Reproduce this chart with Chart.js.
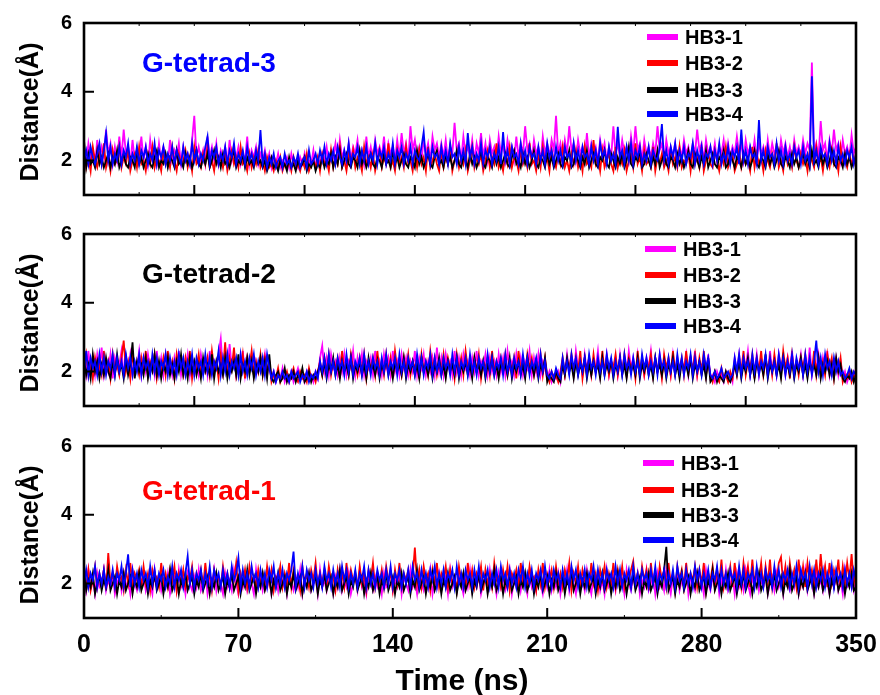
<!DOCTYPE html>
<html>
<head>
<meta charset="utf-8">
<title>G-tetrad hydrogen bond distances</title>
<script src="https://cdn.jsdelivr.net/npm/chart.js@4.4.0/dist/chart.umd.min.js"></script>
<style>
    html, body { margin: 0; padding: 0; background: #fff; }
    #stage { position: relative; width: 880px; height: 695px; }
    #stage canvas { position: absolute; left: 0; top: 0; }
</style>
</head>
<body>
<div id="stage">
    <canvas id="tetrad3" width="880" height="695"></canvas>
    <canvas id="tetrad2" width="880" height="695"></canvas>
    <canvas id="tetrad1" width="880" height="695"></canvas>
</div>
<script>
'use strict';

// one frame per ns, 0 .. 350 ns (27 frames per row below)
const SAMPLE_STEP_NS = 1;

const SERIES_NAMES = ['HB3-1', 'HB3-2', 'HB3-3', 'HB3-4'];
const SERIES_COLORS = ['#ff00ff', '#ff0000', '#000000', '#0000ff'];

const Y_TICKS = [2, 4, 6];
const X_MAJOR_UPPER = [0, 50, 100, 150, 200, 250, 300, 350];
const X_MINOR_UPPER = [25, 75, 125, 175, 225, 275, 325];
const X_MAJOR_LOWER = [0, 70, 140, 210, 280, 350];
const X_MINOR_LOWER = [35, 105, 175, 245, 315];

// G-tetrad-3
const tetrad3Hb1 = [
    2.2,1.9,2.5,2.1,2.3,1.9,2.6,2.0,2.4, 2.1,2.9,2.2,2.5,1.9,2.4,2.0,2.7,2.1, 2.9,2.2,2.4,1.9,2.6,2.0,2.3,2.1,2.7,
    2.0,2.4,1.9,2.6,2.1,2.3,1.9,2.5,2.0, 2.4,2.2,1.9,2.6,2.0,2.3,2.1,2.5,1.9, 2.4,2.0,2.2,1.9,2.6,3.3,2.1,2.4,2.0,
    2.3,1.9,2.7,2.1,2.4,2.0,2.5,1.9,2.3, 2.1,2.4,1.9,2.6,2.0,2.3,2.1,2.4,1.9, 2.2,2.0,2.7,1.9,2.3,2.1,2.4,1.9,2.2,
    2.0,2.3,1.9,2.2,1.8,2.1,1.9,2.2,1.8, 2.0,1.9,2.1,1.8,2.2,1.9,2.0,1.8,2.1, 1.9,2.2,1.8,2.0,1.9,2.3,1.8,2.1,1.9,
    2.2,2.0,2.4,1.9,2.3,2.1,2.5,2.0,2.6, 2.1,2.3,1.9,2.5,2.0,2.4,2.2,2.6,2.0, 2.3,1.9,2.7,2.1,2.4,2.0,2.6,2.2,2.4,
    2.1,2.7,2.0,2.5,2.2,2.4,2.0,2.6,2.1, 2.8,2.2,2.5,2.0,3.0,2.3,2.6,2.1,2.4, 2.0,2.6,2.2,2.5,2.0,2.7,2.3,2.5,2.1,
    2.5,2.1,2.6,2.0,2.4,2.2,3.1,2.3,2.5, 2.0,2.7,2.2,2.4,2.1,2.6,2.0,2.5,2.2, 2.8,2.1,2.5,2.0,2.6,2.2,2.4,2.0,2.7,
    2.2,2.5,2.0,2.6,2.2,2.4,2.0,2.7,2.1, 2.5,2.2,3.0,2.3,2.5,2.0,2.6,2.2,2.4, 2.0,2.7,2.2,2.5,2.1,2.6,2.3,3.3,2.2,
    2.5,2.1,2.6,2.2,3.0,2.3,2.5,2.0,2.6, 2.2,2.4,2.0,2.8,2.1,2.5,2.2,2.4,2.0, 2.6,2.2,2.5,2.0,2.4,2.1,3.0,2.2,2.5,
    2.1,2.6,2.2,2.4,2.0,2.7,2.2,3.0,2.3, 2.5,2.0,2.6,2.2,2.4,2.1,2.5,2.2,3.0, 2.3,2.5,2.0,2.6,2.2,2.4,2.1,2.5,2.0,
    2.4,2.1,2.6,2.2,2.4,2.0,2.5,2.2,2.9, 2.3,2.5,2.0,2.6,2.2,2.4,2.1,2.5,2.0, 2.4,2.2,2.6,2.0,2.5,2.1,2.4,2.2,2.7,
    2.2,2.5,2.0,2.6,2.2,2.4,2.1,2.6,2.0, 2.5,2.2,2.4,2.0,2.6,2.1,2.5,2.2,2.4, 2.0,2.6,2.2,2.5,2.1,2.4,2.0,2.6,2.2,
    2.4,2.1,2.6,2.2,2.5,2.3,4.85,2.2,2.5, 2.1,3.15,2.3,2.5,2.0,2.6,2.2,2.9,2.3, 2.5,2.0,2.6,2.2,2.4,2.1,2.75,2.2,2.4
];
const tetrad3Hb2 = [
    2.3,1.8,2.1,1.7,2.4,2.0,1.8,2.2,1.9, 2.5,1.8,2.1,1.7,2.3,1.9,2.0,2.4,1.8, 2.1,1.9,2.3,1.7,2.0,2.2,1.8,2.4,1.9,
    2.0,1.7,2.2,1.9,2.4,1.8,2.1,2.0,1.7, 2.3,1.9,2.1,1.8,2.4,2.0,1.7,2.2,1.9, 2.0,2.3,1.8,2.1,1.7,2.4,1.9,2.0,1.8,
    2.2,1.9,2.4,1.8,2.0,1.7,2.3,1.9,2.1, 1.8,2.2,1.7,2.0,2.3,1.9,2.1,1.8,2.4, 1.9,2.0,1.7,2.2,1.8,2.1,1.9,2.3,1.8,
    2.0,1.7,2.1,1.8,1.9,1.7,2.0,1.8,2.1, 1.7,1.9,1.8,2.0,1.7,2.1,1.8,1.9,1.7, 2.0,1.8,2.2,1.7,1.9,2.0,1.8,2.1,1.7,
    2.2,1.9,2.0,1.7,2.3,1.8,2.1,1.9,2.4, 1.8,2.0,1.7,2.2,1.9,2.3,1.8,2.1,2.0, 1.7,2.4,1.9,2.1,1.8,2.2,1.7,2.0,2.3,
    1.8,2.1,1.9,2.5,1.8,2.0,1.7,2.3,1.9, 2.1,1.8,2.4,1.9,2.0,1.7,2.2,1.8,2.3, 1.9,2.1,1.7,2.4,1.8,2.0,2.2,1.9,1.7,
    2.3,1.8,2.1,1.9,2.4,1.7,2.0,2.2,1.8, 2.1,1.9,2.3,1.7,2.0,2.4,1.8,2.1,1.9, 2.2,1.7,2.0,2.3,1.8,2.1,1.9,2.5,1.8,
    2.0,1.7,2.2,1.9,2.4,1.8,2.1,2.0,1.7, 2.3,1.9,2.1,1.8,2.5,1.9,2.0,1.7,2.2, 1.8,2.4,1.9,2.1,1.7,2.3,2.0,1.8,2.2,
    1.9,2.4,1.8,2.0,1.7,2.2,1.9,2.3,1.8, 2.1,1.7,2.4,1.9,2.0,1.8,2.6,1.9,2.1, 1.7,2.3,1.8,2.0,2.2,1.9,1.7,2.4,1.8,
    2.1,1.9,2.3,1.7,2.0,2.2,1.8,2.5,1.9, 2.1,1.7,2.3,1.9,2.0,1.8,2.4,1.7,2.1, 1.9,2.2,1.8,2.0,1.7,2.3,1.9,2.1,1.8,
    2.4,1.8,2.0,1.9,2.2,1.7,2.3,1.9,2.1, 1.8,2.4,1.7,2.0,2.2,1.9,1.8,2.3,2.0, 1.7,2.1,1.9,2.4,1.8,2.0,2.2,1.7,1.9,
    2.3,1.8,2.1,1.9,2.0,1.7,2.4,1.8,2.2, 1.9,2.1,1.7,2.3,2.0,1.8,2.2,1.9,2.5, 1.8,2.0,1.7,2.3,1.9,2.1,1.8,2.4,2.0,
    1.8,2.2,1.9,2.1,1.7,2.3,2.0,1.8,2.4, 1.9,2.1,1.7,2.2,2.0,1.8,2.3,1.9,2.1, 1.7,2.4,1.9,2.0,1.8,2.2,1.9,2.1,1.8
];
const tetrad3Hb3 = [
    2.6,1.8,2.2,1.9,2.0,1.8,2.3,1.9,2.1, 1.8,2.0,2.2,1.8,2.1,1.9,2.3,1.8,2.0, 2.2,1.9,1.8,2.1,2.0,1.8,2.3,1.9,2.1,
    1.8,2.0,2.2,1.9,1.8,2.1,2.3,1.8,2.0, 1.9,2.2,1.8,2.1,2.0,1.8,2.3,1.9,2.0, 1.8,2.2,1.9,2.1,1.8,2.0,2.3,1.9,1.8,
    2.1,1.9,2.2,1.8,2.0,2.3,1.9,2.1,1.8, 2.2,1.9,2.0,1.8,2.1,2.3,1.8,2.0,1.9, 2.2,1.8,2.1,1.9,2.0,1.8,2.2,1.9,2.0,
    1.8,2.0,1.7,1.9,2.1,1.8,1.9,1.7,2.0, 1.8,1.9,1.7,2.1,1.8,1.9,1.7,2.0,1.8, 1.9,2.1,1.7,1.9,1.8,2.0,1.7,1.9,1.8,
    2.1,1.8,2.0,1.9,2.2,1.8,2.1,1.9,2.3, 1.8,2.0,2.2,1.9,1.8,2.1,2.0,1.8,2.3, 1.9,2.1,1.8,2.0,2.2,1.9,1.8,2.1,2.0,
    1.8,2.2,1.9,2.0,1.8,2.3,1.9,2.1,1.8, 2.0,2.2,1.9,1.8,2.1,2.0,1.8,2.3,1.9, 2.1,1.8,2.0,2.2,1.9,1.8,2.1,2.3,1.9,
    2.0,1.8,2.2,1.9,2.1,1.8,2.0,2.3,1.9, 1.8,2.1,2.0,1.8,2.2,1.9,2.1,1.8,2.0, 2.3,1.9,1.8,2.1,2.0,1.8,2.2,1.9,2.1,
    1.8,2.0,2.2,1.9,1.8,2.1,2.3,1.9,2.0, 1.8,2.2,1.9,2.1,1.8,2.0,2.3,1.9,1.8, 2.1,2.0,1.8,2.2,1.9,2.1,1.8,2.0,2.2,
    1.9,1.8,2.1,2.0,2.3,1.8,1.9,2.2,2.0, 1.8,2.1,1.9,2.3,1.8,2.0,2.2,1.9,1.8, 2.1,2.0,2.3,1.9,1.8,2.2,2.0,1.8,2.1,
    1.9,2.2,1.8,2.0,2.4,1.9,1.8,2.1,2.0, 2.3,1.8,1.9,2.2,2.0,1.8,2.1,1.9,2.3, 1.8,2.0,2.2,1.9,1.8,2.1,2.0,1.8,2.2,
    1.9,2.1,1.8,2.0,2.3,1.9,1.8,2.2,2.0, 1.8,2.1,1.9,2.3,1.8,2.0,2.2,1.9,1.8, 2.1,2.0,2.3,1.8,1.9,2.2,2.0,1.8,2.1,
    2.0,1.8,2.2,1.9,2.1,1.8,2.0,2.3,1.9, 1.8,2.1,2.0,1.8,2.2,1.9,2.1,1.8,2.0, 2.3,1.9,1.8,2.1,2.0,1.8,2.2,1.9,2.1,
    1.8,2.0,2.2,1.9,2.1,1.8,2.3,1.9,2.0, 1.8,2.2,1.9,2.1,1.8,2.0,2.3,1.9,1.8, 2.1,2.0,1.8,2.2,1.9,2.1,1.8,2.0,1.9
];
const tetrad3Hb4 = [
    2.0,2.3,1.9,2.4,2.1,1.9,2.2,2.5,1.9, 2.3,2.8,2.0,2.4,1.9,2.2,2.0,2.4,1.9, 2.3,2.1,2.5,1.9,2.2,2.0,2.4,1.9,2.3,
    2.1,2.4,1.9,2.2,2.0,2.5,1.9,2.3,2.1, 2.4,1.9,2.2,2.0,2.4,1.9,2.3,2.1,1.9, 2.4,2.0,2.2,1.9,2.5,2.0,2.3,1.9,2.2,
    2.0,2.4,2.7,1.9,2.3,2.1,2.4,1.9,2.2, 2.0,2.4,1.9,2.3,2.1,2.5,1.9,2.2,2.0, 2.3,1.9,2.4,2.0,2.2,1.9,2.3,2.0,2.89,
    1.9,2.2,1.8,2.1,1.9,2.2,1.8,2.0,2.1, 1.8,2.2,1.9,2.0,1.8,2.1,1.9,2.2,1.8, 2.0,2.1,1.8,2.3,1.9,2.0,2.2,1.9,2.3,
    2.0,2.4,1.9,2.2,2.0,2.3,1.9,2.4,2.1, 1.9,2.3,2.0,2.5,1.9,2.2,2.1,2.4,1.9, 2.3,2.0,2.4,1.9,2.2,2.0,2.5,1.9,2.3,
    2.1,2.4,1.9,2.2,2.0,2.5,1.9,2.3,2.1, 2.4,1.9,2.2,2.0,2.4,1.9,2.3,2.1,2.0, 2.4,2.83,2.0,2.3,1.9,2.4,2.1,2.2,1.9,
    2.4,2.0,2.3,1.9,2.5,2.1,2.2,1.9,2.4, 2.0,2.3,1.9,2.8,2.1,2.4,1.9,2.2,2.0, 2.5,1.9,2.3,2.1,2.4,1.9,2.2,2.0,2.4,
    1.9,2.83,2.0,2.3,1.9,2.4,2.1,2.2,1.9, 2.5,2.0,2.3,1.9,2.4,2.1,2.2,1.9,2.4, 2.0,2.3,1.9,2.5,2.1,2.3,1.9,2.4,2.0,
    2.3,1.9,2.4,2.1,2.2,1.9,2.5,2.0,2.3, 1.9,2.4,2.1,2.2,1.9,2.4,2.0,2.3,1.9, 2.5,2.1,2.3,1.9,2.4,2.0,2.2,1.9,2.98,
    2.1,2.3,1.9,2.4,2.0,2.5,1.9,2.3,2.1, 2.4,1.9,2.2,2.0,2.4,1.9,2.3,2.1,2.0, 2.4,3.06,2.0,2.3,1.9,2.4,2.1,2.5,1.9,
    2.3,2.0,2.4,1.9,2.2,2.1,2.5,1.9,2.3, 2.0,2.4,1.9,2.2,2.1,2.4,1.9,2.3,2.0, 2.5,1.9,2.2,2.0,2.4,1.9,2.3,2.1,2.4,
    1.9,2.9,2.0,2.3,1.9,2.4,2.1,2.2,1.9, 3.18,2.0,2.3,1.9,2.4,2.1,2.2,1.9,2.5, 2.0,2.3,1.9,2.4,2.0,2.2,1.9,2.4,2.1,
    2.3,1.9,2.4,2.0,2.2,1.9,4.45,2.0,2.3, 1.9,2.4,2.1,2.2,1.9,2.5,2.0,2.3,1.9, 2.4,2.0,2.2,1.9,2.3,2.1,2.4,1.9,2.2
];

// G-tetrad-2
const tetrad2Hb1 = [
    2.3,1.9,2.6,2.0,2.4,1.9,2.5,2.1,2.7, 1.9,2.3,2.0,2.5,1.8,2.4,2.1,2.2,2.6, 1.9,2.4,2.0,2.5,1.9,2.3,2.1,2.6,1.9,
    2.4,2.0,2.5,2.1,2.3,1.9,2.6,2.0,2.4, 1.9,2.5,2.1,2.3,1.9,2.4,2.0,2.6,1.9, 2.3,2.1,2.5,1.9,2.4,2.0,2.3,1.9,2.5,
    2.1,2.4,1.9,2.6,2.0,2.3,2.1,2.5,2.95, 2.0,2.4,1.9,2.8,2.1,2.5,1.9,2.3,2.0, 2.6,1.9,2.4,2.1,2.5,1.9,2.3,2.0,2.4,
    2.1,2.5,1.9,2.3,1.8,2.0,1.7,1.9,1.8, 2.1,1.7,1.9,1.8,2.0,1.7,1.9,2.1,1.8, 1.9,1.7,2.0,1.8,1.9,1.7,2.0,1.8,2.4,
    2.75,2.0,2.4,1.9,2.5,2.1,2.3,1.9,2.4, 2.0,2.5,1.9,2.3,2.1,2.6,1.9,2.4,2.0, 2.5,1.9,2.3,2.1,2.4,1.9,2.6,2.0,2.3,
    1.9,2.5,2.1,2.4,1.9,2.6,2.0,2.3,1.9, 2.5,2.1,2.4,1.9,2.3,2.0,2.6,1.9,2.4, 2.1,2.5,1.9,2.3,2.0,2.4,1.9,2.7,2.0,
    2.4,1.9,2.5,2.1,2.3,1.9,2.6,2.0,2.4, 1.9,2.5,2.1,2.3,1.9,2.4,2.0,2.6,1.9, 2.3,2.1,2.5,1.9,2.4,2.0,2.3,1.9,2.5,
    2.0,2.4,1.9,2.6,2.1,2.3,1.9,2.5,2.0, 2.4,1.9,2.3,2.1,2.6,1.9,2.4,2.0,2.5, 1.9,2.3,2.1,1.8,2.0,1.7,1.9,1.8,2.0,
    1.7,2.3,1.9,2.5,2.0,2.4,1.9,2.6,2.1, 2.3,1.9,2.5,2.0,2.4,1.9,2.3,2.1,2.6, 1.9,2.4,2.0,2.5,1.9,2.3,2.1,2.4,1.9,
    2.5,2.0,2.3,1.9,2.6,2.1,2.4,1.9,2.5, 2.0,2.3,1.9,2.4,2.1,2.6,1.9,2.3,2.0, 2.5,1.9,2.4,2.1,2.3,1.9,2.5,2.0,2.4,
    1.9,2.3,2.1,2.5,1.9,2.4,2.0,2.6,1.9, 2.3,2.1,2.4,1.9,2.5,1.8,1.9,1.7,2.0, 1.8,1.9,1.7,2.0,1.8,1.9,1.7,2.4,2.0,
    2.5,1.9,2.4,2.1,2.6,1.9,2.3,2.0,2.5, 1.9,2.4,2.1,2.3,1.9,2.6,2.0,2.4,1.9, 2.5,2.1,2.3,1.9,2.4,2.0,2.6,1.9,2.3,
    2.1,2.5,1.9,2.4,2.0,2.7,1.9,2.3,2.1, 2.5,1.9,2.4,2.0,2.6,1.9,2.3,2.1,2.4, 1.9,2.3,1.8,2.0,1.7,1.9,1.8,2.0,1.8
];
const tetrad2Hb2 = [
    2.1,2.5,1.9,2.3,1.8,2.4,2.0,2.2,1.9, 2.6,2.0,2.3,1.8,2.5,2.0,2.2,1.9,2.4, 2.9,2.0,2.3,1.8,2.5,2.1,2.2,1.9,2.4,
    2.0,2.6,1.9,2.3,2.1,2.5,1.8,2.2,2.0, 2.4,1.9,2.6,2.0,2.3,1.8,2.5,2.1,2.2, 1.9,2.4,2.0,2.6,1.8,2.3,2.1,2.5,1.9,
    2.2,2.0,2.4,1.9,2.6,2.1,2.3,1.8,2.5, 2.0,2.85,1.9,2.4,2.1,2.7,1.9,2.3,2.0, 2.5,1.8,2.4,2.1,2.6,1.9,2.3,2.0,2.5,
    1.9,2.4,2.0,2.3,1.7,1.9,1.8,2.1,1.7, 1.9,1.8,2.0,1.7,1.9,2.1,1.8,1.7,2.0, 1.8,1.9,1.7,2.1,1.8,1.9,1.7,2.0,2.3,
    1.9,2.4,2.0,2.5,1.9,2.3,2.1,2.4,1.8, 2.6,2.0,2.3,1.9,2.5,2.1,2.2,1.9,2.4, 2.0,2.5,1.8,2.3,2.1,2.4,1.9,2.6,2.0,
    2.3,1.9,2.5,2.0,2.4,1.8,2.6,2.1,2.3, 1.9,2.4,2.0,2.5,1.9,2.3,2.1,2.4,1.8, 2.5,2.0,2.3,1.9,2.6,2.1,2.4,1.9,2.3,
    2.0,2.5,1.9,2.4,2.1,2.3,1.8,2.5,2.0, 2.4,1.9,2.6,2.1,2.3,1.9,2.4,2.0,2.5, 1.8,2.3,2.1,2.4,1.9,2.6,2.0,2.3,1.9,
    2.4,2.1,2.5,1.9,2.3,2.0,2.4,1.8,2.6, 2.0,2.3,1.9,2.5,2.1,2.4,1.9,2.3,2.0, 2.5,1.9,2.4,1.9,1.7,2.0,1.8,1.9,1.7,
    2.0,2.4,1.9,2.3,2.1,2.5,1.9,2.4,2.0, 2.6,1.8,2.3,2.1,2.4,1.9,2.5,2.0,2.3, 1.9,2.6,2.0,2.4,1.9,2.3,2.1,2.5,1.9,
    2.3,2.0,2.5,1.9,2.4,2.1,2.3,1.8,2.6, 2.0,2.4,1.9,2.3,2.1,2.5,1.9,2.4,2.0, 2.3,1.8,2.5,2.1,2.4,1.9,2.6,2.0,2.3,
    2.1,2.4,1.9,2.6,2.0,2.3,2.1,2.5,1.9, 2.4,2.0,2.6,1.9,2.3,1.9,1.7,2.0,1.8, 1.7,2.1,1.8,1.9,1.7,2.0,1.8,2.3,1.9,
    2.4,2.0,2.6,1.9,2.3,2.1,2.5,1.8,2.4, 2.0,2.6,1.9,2.3,2.1,2.4,1.9,2.5,2.0, 2.3,1.9,2.6,2.1,2.4,1.8,2.5,2.0,2.3,
    1.9,2.4,2.1,2.5,1.9,2.3,2.0,2.6,1.9, 2.4,2.0,2.3,1.9,2.5,2.1,2.4,1.8,2.3, 2.0,2.4,1.7,1.9,1.8,2.0,1.7,1.9,1.8
];
const tetrad2Hb3 = [
    2.4,1.9,2.2,1.8,2.5,2.0,2.3,1.8,2.2, 1.9,2.4,2.0,1.8,2.3,1.9,2.5,2.0,2.2, 1.8,2.4,1.9,2.2,2.85,1.8,2.3,2.0,2.2,
    1.9,2.4,1.8,2.2,2.0,2.5,1.9,2.3,1.8, 2.2,2.0,2.4,1.9,2.2,1.8,2.3,2.0,2.5, 1.9,2.2,1.8,2.4,2.0,2.3,1.9,2.2,1.8,
    2.4,2.0,2.2,1.9,2.5,1.8,2.3,2.0,2.2, 1.9,2.4,1.8,2.2,2.0,2.3,1.9,2.5,1.8, 2.2,2.0,2.4,1.9,2.3,1.8,2.2,2.0,2.4,
    1.9,2.3,1.8,2.5,1.8,1.7,1.9,2.0,1.7, 1.8,2.1,1.7,1.9,1.8,2.0,1.7,1.9,1.8, 2.1,1.7,1.8,2.0,1.7,1.9,1.8,2.0,2.2,
    1.9,2.3,1.8,2.2,2.0,2.4,1.9,2.2,1.8, 2.3,2.0,2.2,1.9,2.4,1.8,2.2,2.0,2.3, 1.9,2.2,1.8,2.4,2.0,2.2,1.9,2.3,1.8,
    2.2,2.0,2.4,1.9,2.2,1.8,2.3,2.0,2.2, 1.9,2.4,1.8,2.2,2.0,2.3,1.9,2.2,1.8, 2.4,2.0,2.2,1.9,2.3,1.8,2.2,2.0,2.4,
    1.9,2.2,1.8,2.3,2.0,2.2,1.9,2.4,1.8, 2.2,2.0,2.3,1.9,2.2,1.8,2.4,2.0,2.2, 1.9,2.3,1.8,2.2,2.0,2.4,1.9,2.2,1.8,
    2.3,2.0,2.2,1.9,2.4,1.8,2.2,2.0,2.3, 1.9,2.2,1.8,2.4,2.0,2.2,1.9,2.3,1.8, 2.2,2.0,2.4,1.7,1.9,1.8,1.7,2.0,1.8,
    1.7,2.2,1.9,2.4,2.0,2.2,1.8,2.3,1.9, 2.2,2.0,2.4,1.8,2.2,1.9,2.3,2.0,2.2, 1.8,2.4,1.9,2.2,2.0,2.3,1.8,2.2,2.0,
    2.4,1.9,2.2,1.8,2.3,2.0,2.2,1.9,2.4, 1.8,2.2,2.0,2.3,1.9,2.2,1.8,2.4,2.0, 2.2,1.9,2.3,1.8,2.2,2.0,2.4,1.9,2.2,
    1.8,2.3,2.0,2.2,1.9,2.4,1.8,2.2,2.0, 2.3,1.9,2.2,1.8,2.4,1.7,1.8,2.0,1.7, 1.9,1.8,1.7,2.0,1.8,1.7,1.9,2.2,1.9,
    2.3,1.8,2.2,2.0,2.4,1.9,2.2,1.8,2.3, 2.0,2.2,1.9,2.5,1.8,2.2,2.0,2.3,1.9, 2.2,1.8,2.4,2.0,2.2,1.9,2.3,1.8,2.2,
    2.0,2.4,1.9,2.2,1.8,2.3,2.0,2.2,1.9, 2.4,1.8,2.2,2.0,2.3,1.9,2.2,1.8,2.4, 2.0,2.2,1.8,1.7,1.9,1.8,2.0,1.7,1.9
];
const tetrad2Hb4 = [
    2.0,2.6,1.9,2.4,2.1,2.3,1.9,2.5,2.0, 2.4,1.9,2.3,2.1,2.5,1.9,2.4,2.0,2.3, 1.9,2.5,2.1,2.4,1.9,2.3,2.0,2.5,1.9,
    2.4,2.1,2.3,1.9,2.5,2.0,2.4,1.9,2.3, 2.1,2.5,1.9,2.4,2.0,2.3,1.9,2.5,2.1, 2.4,1.9,2.3,2.0,2.5,1.9,2.4,2.1,2.3,
    1.9,2.5,2.0,2.4,1.9,2.3,2.1,2.6,1.9, 2.4,2.0,2.5,1.9,2.3,2.1,2.4,1.9,2.5, 2.0,2.3,1.9,2.4,2.1,2.5,1.9,2.3,2.0,
    2.4,1.9,2.5,2.1,1.8,2.0,1.7,1.9,1.8, 2.0,1.8,1.9,1.7,2.0,1.8,1.9,2.0,1.7, 1.9,1.8,2.0,1.7,1.9,1.8,2.0,1.8,2.3,
    2.0,2.4,1.9,2.5,2.0,2.3,1.9,2.4,2.1, 2.3,1.9,2.5,2.0,2.4,1.9,2.3,2.1,2.4, 1.9,2.5,2.0,2.3,1.9,2.4,2.1,2.3,1.9,
    2.4,2.0,2.5,1.9,2.3,2.1,2.4,1.9,2.5, 2.0,2.3,1.9,2.4,2.1,2.3,1.9,2.5,2.0, 2.4,1.9,2.3,2.1,2.5,1.9,2.4,2.0,2.3,
    1.9,2.4,2.1,2.3,1.9,2.5,2.0,2.4,1.9, 2.3,2.1,2.4,1.9,2.5,2.0,2.3,1.9,2.4, 2.1,2.3,1.9,2.5,2.0,2.4,1.9,2.3,2.1,
    2.4,1.9,2.5,2.0,2.3,1.9,2.4,2.1,2.3, 1.9,2.5,2.0,2.4,1.9,2.3,2.1,2.4,1.9, 2.5,2.0,2.3,1.9,1.8,2.0,1.8,2.1,1.9,
    1.8,2.4,2.0,2.3,1.9,2.5,2.1,2.4,1.9, 2.3,2.0,2.4,1.9,2.5,2.1,2.3,1.9,2.4, 2.0,2.3,1.9,2.5,2.1,2.4,1.9,2.3,2.0,
    2.4,1.9,2.5,2.1,2.3,1.9,2.4,2.0,2.3, 1.9,2.5,2.1,2.4,1.9,2.3,2.0,2.4,1.9, 2.5,2.1,2.3,1.9,2.4,2.0,2.3,1.9,2.5,
    2.0,2.4,1.9,2.3,2.1,2.5,1.9,2.4,2.0, 2.3,1.9,2.5,2.1,2.4,1.9,1.8,2.0,1.8, 1.9,2.1,1.8,1.9,2.0,1.8,1.9,2.4,2.0,
    2.5,1.9,2.4,2.1,2.3,1.9,2.5,2.0,2.4, 1.9,2.3,2.1,2.5,1.9,2.4,2.0,2.3,1.9, 2.5,2.1,2.4,1.9,2.3,2.0,2.5,1.9,2.4,
    2.1,2.3,1.9,2.5,2.0,2.4,1.9,2.3,2.9, 2.0,2.4,1.9,2.5,2.1,2.3,1.9,2.4,2.0, 2.3,1.9,2.0,1.8,1.9,2.1,1.8,2.0,1.9
];

// G-tetrad-1
const tetrad1Hb1 = [
    2.2,1.8,2.4,1.9,2.1,1.7,2.3,1.9,2.0, 2.4,1.8,2.1,1.9,2.3,1.7,2.0,2.2,1.8, 2.3,1.9,2.1,1.7,2.4,2.0,1.8,2.2,1.9,
    2.3,1.8,2.1,2.0,1.7,2.4,1.9,2.2,1.8, 2.1,1.9,2.3,1.7,2.0,2.2,1.8,2.4,1.9, 2.1,1.7,2.3,2.0,1.8,2.2,1.9,2.4,1.8,
    2.0,2.3,1.7,2.1,1.9,2.4,1.8,2.2,2.0, 1.7,2.3,1.9,2.1,1.8,2.4,2.0,1.7,2.2, 1.9,2.3,1.8,2.1,2.0,1.7,2.4,1.9,2.2,
    1.8,2.1,1.9,2.3,1.7,2.0,2.2,1.8,2.4, 1.9,2.1,1.7,2.3,2.0,1.8,2.2,1.9,2.4, 1.7,2.1,1.9,2.3,1.8,2.0,2.2,1.7,2.4,
    1.9,2.1,1.8,2.3,2.0,1.7,2.2,1.9,2.4, 1.8,2.1,1.9,2.3,1.7,2.0,2.2,1.8,2.4, 1.9,2.1,1.7,2.3,2.0,1.8,2.2,1.9,2.1,
    1.7,2.3,1.9,2.0,2.4,1.8,2.1,1.9,2.3, 1.7,2.2,2.0,1.8,2.4,1.9,2.1,1.7,2.3, 2.0,1.8,2.2,1.9,2.4,1.7,2.1,1.9,2.3,
    1.8,2.0,2.2,1.7,2.4,1.9,2.1,1.8,2.3, 2.0,1.7,2.2,1.9,2.4,1.8,2.1,1.9,2.3, 1.7,2.0,2.2,1.8,2.4,1.9,2.1,1.7,2.3,
    1.9,2.2,1.8,2.0,2.4,1.7,2.1,1.9,2.3, 1.8,2.2,2.0,1.7,2.4,1.9,2.1,1.8,2.3, 2.0,1.7,2.2,1.9,2.4,1.8,2.1,1.9,2.3,
    1.7,2.1,1.9,2.4,1.8,2.2,2.0,1.7,2.3, 1.9,2.1,1.8,2.4,2.0,1.7,2.2,1.9,2.3, 1.8,2.1,1.7,2.4,1.9,2.0,2.2,1.8,2.3,
    1.9,2.1,1.7,2.4,2.0,1.8,2.2,1.9,2.3, 1.7,2.1,1.9,2.4,1.8,2.0,2.2,1.7,2.3, 1.9,2.1,1.8,2.4,2.0,1.7,2.2,1.9,2.3,
    1.8,2.1,1.9,2.4,1.7,2.2,2.0,1.8,2.3, 1.9,2.1,1.7,2.4,2.0,1.8,2.2,1.9,2.3, 1.7,2.1,1.9,2.4,1.8,2.0,2.2,1.7,2.3,
    1.9,2.1,1.8,2.4,2.0,1.7,2.2,1.9,2.3, 1.8,2.1,1.9,2.4,1.7,2.0,2.2,1.8,2.3, 1.9,2.1,1.7,2.4,2.0,1.8,2.2,1.9,2.3,
    1.7,2.1,1.9,2.4,1.8,2.2,2.0,1.7,2.3, 1.9,2.1,1.8,2.4,2.0,1.7,2.2,1.9,2.3, 1.8,2.1,1.7,2.4,1.9,2.0,2.2,1.8,2.1
];
const tetrad1Hb2 = [
    2.2,1.9,2.4,1.8,2.1,2.5,1.9,2.3,2.0, 2.4,1.8,2.89,2.0,2.3,1.9,2.5,2.1,2.2, 1.8,2.4,2.0,2.6,1.9,2.3,2.1,2.4,1.9,
    2.5,2.0,2.3,1.8,2.4,2.1,2.2,1.9,2.6, 2.0,2.3,1.9,2.4,2.1,2.5,1.8,2.3,2.0, 2.4,1.9,2.2,2.1,2.5,1.9,2.3,2.0,2.4,
    1.9,2.6,2.0,2.3,1.8,2.4,2.1,2.2,1.9, 2.5,2.0,2.3,1.9,2.4,2.1,2.6,1.8,2.3, 2.0,2.4,1.9,2.5,2.1,2.2,1.9,2.4,2.0,
    2.3,1.9,2.5,2.0,2.4,1.8,2.2,2.1,2.5, 1.9,2.3,2.0,2.6,1.9,2.4,2.1,2.2,1.8, 2.5,2.0,2.3,1.9,2.4,2.1,2.6,1.9,2.3,
    2.0,2.4,1.9,2.5,2.1,2.2,1.8,2.4,2.0, 2.3,1.9,2.6,2.0,2.4,2.1,2.2,1.9,2.5, 2.0,2.3,1.8,2.4,2.1,2.6,1.9,2.3,2.0,
    2.4,1.9,2.5,2.1,2.3,1.8,2.4,2.0,2.6, 1.9,2.3,2.1,2.4,1.9,2.2,3.05,2.0,2.4, 1.9,2.5,2.1,2.3,1.8,2.4,2.0,2.6,1.9,
    2.3,2.1,2.5,1.9,2.4,2.0,2.2,1.8,2.5, 2.1,2.3,1.9,2.6,2.0,2.4,1.9,2.3,2.1, 2.5,1.8,2.4,2.0,2.3,1.9,2.6,2.1,2.2,
    1.9,2.4,2.0,2.5,1.8,2.3,2.1,2.4,1.9, 2.6,2.0,2.3,1.9,2.5,2.1,2.2,1.8,2.4, 2.0,2.6,1.9,2.3,2.1,2.4,1.9,2.5,2.0,
    2.3,1.9,2.4,2.1,2.6,1.8,2.3,2.0,2.5, 1.9,2.4,2.1,2.2,1.9,2.6,2.0,2.3,1.8, 2.4,2.1,2.5,1.9,2.3,2.0,2.6,1.9,2.4,
    2.0,2.5,1.9,2.3,2.1,2.4,2.65,2.0,2.3, 1.9,2.5,2.1,2.4,1.8,2.6,2.0,2.3,1.9, 2.5,2.1,2.4,1.9,2.6,2.0,2.3,1.8,2.5,
    2.1,2.4,1.9,2.6,2.0,2.3,2.1,2.5,1.9, 2.4,2.0,2.6,1.8,2.3,2.1,2.5,1.9,2.4, 2.0,2.7,1.9,2.3,2.1,2.5,1.9,2.6,2.0,
    2.4,1.9,2.6,2.1,2.5,1.9,2.7,2.0,2.4, 2.1,2.6,1.9,2.5,2.0,2.7,1.9,2.4,2.1, 2.6,2.77,2.0,2.5,1.9,2.6,2.1,2.4,1.9,
    2.7,2.0,2.5,1.9,2.6,2.1,2.4,1.9,2.7, 2.0,2.86,2.1,2.5,1.9,2.6,2.0,2.4,2.1, 2.7,1.9,2.5,2.0,2.6,2.1,2.86,2.0,2.4
];
const tetrad1Hb3 = [
    2.5,1.8,2.1,1.9,2.3,1.7,2.0,2.2,1.8, 2.1,1.9,2.4,1.8,2.0,2.2,1.7,2.1,1.9, 2.3,1.8,2.0,2.2,1.7,2.1,1.9,2.3,1.8,
    2.0,2.2,1.7,2.1,1.9,2.3,1.8,2.0,2.2, 1.7,2.1,1.9,2.4,1.8,2.0,2.2,1.7,2.1, 1.9,2.3,1.8,2.0,2.2,1.7,2.1,1.9,2.3,
    1.8,2.0,2.2,1.7,2.1,1.9,2.3,1.8,2.0, 2.2,1.7,2.1,1.9,2.3,1.8,2.0,2.2,1.7, 2.1,1.9,2.4,1.8,2.0,2.2,1.7,2.1,1.9,
    2.3,1.8,2.0,2.2,1.7,2.1,1.9,2.3,1.8, 2.0,2.2,1.7,2.1,1.9,2.3,1.8,2.0,2.2, 1.7,2.1,1.9,2.3,1.8,2.0,2.2,1.7,2.1,
    1.9,2.3,1.8,2.0,2.2,1.7,2.1,1.9,2.4, 1.8,2.0,2.2,1.7,2.1,1.9,2.3,1.8,2.0, 2.2,1.7,2.1,1.9,2.3,1.8,2.0,2.2,1.7,
    2.1,1.9,2.3,1.8,2.0,2.2,1.7,2.1,1.9, 2.3,1.8,2.0,2.2,1.7,2.1,1.9,2.4,1.8, 2.0,2.2,1.7,2.1,1.9,2.3,1.8,2.0,2.2,
    1.7,2.1,1.9,2.3,1.8,2.0,2.2,1.7,2.1, 1.9,2.3,1.8,2.0,2.2,1.7,2.1,1.9,2.3, 1.8,2.0,2.2,1.7,2.1,1.9,2.4,1.8,2.0,
    2.2,1.7,2.1,1.9,2.3,1.8,2.0,2.2,1.7, 2.1,1.9,2.3,1.8,2.0,2.2,1.7,2.1,1.9, 2.3,1.8,2.0,2.2,1.7,2.1,1.9,2.3,1.8,
    2.0,2.2,1.7,2.1,1.9,2.4,1.8,2.0,2.2, 1.7,2.1,1.9,2.3,1.8,2.0,2.2,1.7,2.1, 1.9,2.3,1.8,2.0,2.2,1.7,2.1,1.9,2.3,
    1.8,2.0,2.2,1.7,2.1,1.9,2.3,1.8,2.0, 2.2,1.7,2.1,1.9,2.3,1.8,2.0,2.2,1.7, 2.1,1.9,2.4,3.07,1.8,2.0,2.2,1.7,2.1,
    1.9,2.3,1.8,2.0,2.2,1.7,2.1,1.9,2.3, 1.8,2.0,2.2,1.7,2.1,1.9,2.4,1.8,2.0, 2.2,1.7,2.1,1.9,2.3,1.8,2.0,2.2,1.7,
    2.1,1.9,2.3,1.8,2.0,2.2,1.7,2.1,1.9, 2.3,1.8,2.0,2.2,1.7,2.1,1.9,2.3,1.8, 2.0,2.2,1.7,2.1,1.9,2.4,1.8,2.0,2.2,
    1.7,2.1,1.9,2.3,1.8,2.0,2.2,1.7,2.1, 1.9,2.3,1.8,2.0,2.2,1.7,2.1,1.9,2.3, 1.8,2.0,2.2,1.7,2.1,1.9,2.3,1.8,1.9
];
const tetrad1Hb4 = [
    2.0,2.4,1.9,2.3,2.1,2.5,1.9,2.3,2.0, 2.4,1.9,2.2,2.0,2.4,1.9,2.3,2.1,2.5, 1.9,2.3,2.85,1.9,2.4,2.0,2.3,1.9,2.4,
    2.1,2.3,1.9,2.5,2.0,2.4,1.9,2.3,2.1, 2.4,1.9,2.2,2.0,2.5,1.9,2.3,2.1,2.4, 1.9,2.3,2.8,2.0,2.4,1.9,2.3,2.1,2.4,
    1.9,2.3,2.0,2.5,1.9,2.4,2.1,2.3,1.9, 2.4,2.0,2.3,1.9,2.5,2.1,2.3,2.75,1.9, 2.4,2.0,2.3,1.9,2.5,2.1,2.3,1.9,2.4,
    2.0,2.3,1.9,2.4,2.1,2.5,1.9,2.3,2.0, 2.4,1.9,2.3,2.1,2.4,2.93,1.9,2.3,2.0, 2.5,1.9,2.4,2.1,2.3,1.9,2.4,2.0,2.3,
    1.9,2.5,2.1,2.3,1.9,2.4,2.0,2.3,1.9, 2.5,2.1,2.4,1.9,2.3,2.0,2.4,1.9,2.3, 2.1,2.5,1.9,2.4,2.0,2.3,1.9,2.4,2.1,
    2.3,1.9,2.4,2.0,2.5,1.9,2.3,2.1,2.4, 1.9,2.3,2.0,2.4,1.9,2.5,2.1,2.3,1.9, 2.4,2.0,2.3,1.9,2.4,2.1,2.5,1.9,2.3,
    2.0,2.4,1.9,2.3,2.1,2.4,1.9,2.5,2.0, 2.3,1.9,2.4,2.1,2.3,1.9,2.4,2.0,2.5, 1.9,2.3,2.1,2.4,1.9,2.3,2.0,2.4,1.9,
    2.5,2.1,2.3,1.9,2.4,2.0,2.3,1.9,2.4, 2.1,2.5,1.9,2.3,2.0,2.4,1.9,2.3,2.1, 2.4,1.9,2.5,2.0,2.3,1.9,2.4,2.1,2.3,
    1.9,2.4,2.0,2.3,1.9,2.5,2.1,2.4,1.9, 2.3,2.0,2.4,1.9,2.3,2.1,2.5,1.9,2.4, 2.0,2.3,1.9,2.4,2.1,2.3,1.9,2.5,2.0,
    2.4,1.9,2.3,2.1,2.4,1.9,2.5,2.0,2.3, 1.9,2.4,2.1,2.3,1.9,2.4,2.0,2.5,1.9, 2.3,2.1,2.4,1.9,2.3,2.0,2.4,1.9,2.5,
    2.1,2.3,1.9,2.4,2.0,2.3,1.9,2.5,2.1, 2.4,1.9,2.3,2.0,2.4,1.9,2.3,2.1,2.5, 1.9,2.4,2.0,2.3,1.9,2.4,2.1,2.3,1.9,
    2.5,2.0,2.4,1.9,2.3,2.1,2.4,1.9,2.5, 2.0,2.3,1.9,2.4,2.1,2.3,1.9,2.5,2.0, 2.4,1.9,2.3,2.1,2.4,1.9,2.3,2.0,2.5,
    1.9,2.4,2.1,2.3,1.9,2.5,2.0,2.4,1.9, 2.3,2.1,2.4,1.9,2.3,2.0,2.5,1.9,2.4, 2.1,2.3,1.9,2.4,2.0,2.3,1.9,2.4,2.1
];

const FONT = '"Liberation Sans", Arial, Helvetica, sans-serif';
const PLOT_LEFT = 84;
const PLOT_RIGHT = 856;
const PAGE_WIDTH = 880;
const PAGE_HEIGHT = 695;

const PANELS = [
    {
        canvasId: 'tetrad3', title: 'G-tetrad-3', titleColor: '#0000ff',
        top: 23, bottom: 195, titleBaseline: 72,
        legendLeft: 647, legendRows: [37, 63, 90, 114],
        series: [tetrad3Hb1, tetrad3Hb2, tetrad3Hb3, tetrad3Hb4],
        majorTicks: X_MAJOR_UPPER, minorTicks: X_MINOR_UPPER, timeAxis: false
    },
    {
        canvasId: 'tetrad2', title: 'G-tetrad-2', titleColor: '#000000',
        top: 234, bottom: 406, titleBaseline: 283,
        legendLeft: 645, legendRows: [249, 275, 301, 326],
        series: [tetrad2Hb1, tetrad2Hb2, tetrad2Hb3, tetrad2Hb4],
        majorTicks: X_MAJOR_UPPER, minorTicks: X_MINOR_UPPER, timeAxis: false
    },
    {
        canvasId: 'tetrad1', title: 'G-tetrad-1', titleColor: '#ff0000',
        top: 446, bottom: 618, titleBaseline: 500,
        legendLeft: 643, legendRows: [463, 490, 515, 540],
        series: [tetrad1Hb1, tetrad1Hb2, tetrad1Hb3, tetrad1Hb4],
        majorTicks: X_MAJOR_LOWER, minorTicks: X_MINOR_LOWER, timeAxis: true
    }
];

function toPoints(values) {
    return values.map((value, index) => ({ x: index * SAMPLE_STEP_NS, y: value }));
}

// frame, inward ticks, panel title, axis titles and legend
const panelDecor = {
    id: 'panelDecor',
    afterDatasetsDraw(chart, args, opts) {
        const { ctx, chartArea: area, scales: { x, y } } = chart;
        ctx.save();
        ctx.strokeStyle = '#000';

        ctx.lineWidth = 2;
        ctx.beginPath();
        Y_TICKS.forEach((value) => {
            const py = y.getPixelForValue(value);
            ctx.moveTo(area.left, py);
            ctx.lineTo(area.left + 10, py);
        });
        opts.majorTicks.forEach((value) => {
            const px = x.getPixelForValue(value);
            ctx.moveTo(px, area.bottom);
            ctx.lineTo(px, area.bottom - 10);
        });
        ctx.stroke();

        ctx.lineWidth = 1;
        ctx.beginPath();
        opts.minorTicks.forEach((value) => {
            const px = x.getPixelForValue(value);
            ctx.moveTo(px, area.bottom);
            ctx.lineTo(px, area.bottom - 3);
        });
        opts.majorTicks.concat(opts.minorTicks).forEach((value) => {
            const px = x.getPixelForValue(value);
            ctx.moveTo(px, area.top);
            ctx.lineTo(px, area.top + 3);
        });
        ctx.stroke();

        ctx.lineWidth = 2.6;
        ctx.strokeRect(area.left, area.top, area.right - area.left, area.bottom - area.top);
        ctx.restore();
    },
    afterDraw(chart, args, opts) {
        const { ctx, chartArea: area } = chart;
        ctx.save();

        ctx.font = `bold 28px ${FONT}`;
        ctx.fillStyle = opts.titleColor;
        ctx.textAlign = 'left';
        ctx.textBaseline = 'alphabetic';
        ctx.fillText(opts.title, 142, opts.titleBaseline);

        ctx.font = `bold 20px ${FONT}`;
        chart.data.datasets.forEach((dataset, i) => {
            const cy = opts.legendRows[i];
            ctx.fillStyle = dataset.borderColor;
            ctx.fillRect(opts.legendLeft, cy - 3, 31, 6);
            ctx.fillStyle = '#000';
            ctx.fillText(dataset.label, opts.legendLeft + 38, cy + 7);
        });

        ctx.save();
        ctx.font = `bold 25px ${FONT}`;
        ctx.fillStyle = '#000';
        ctx.translate(31, (area.top + area.bottom) / 2 + 3);
        ctx.rotate(-Math.PI / 2);
        ctx.textAlign = 'center';
        ctx.textBaseline = 'middle';
        ctx.fillText('Distance(Å)', 0, 0);
        ctx.restore();

        if (opts.timeAxis) {
            ctx.font = `bold 30px ${FONT}`;
            ctx.fillStyle = '#000';
            ctx.textAlign = 'center';
            ctx.fillText('Time (ns)', 462, 690);
        }
        ctx.restore();
    }
};

function buildPanel(panel) {
    const datasets = panel.series.map((values, i) => ({
        label: SERIES_NAMES[i],
        data: toPoints(values),
        borderColor: SERIES_COLORS[i],
        backgroundColor: SERIES_COLORS[i],
        borderWidth: 1.8,
        pointRadius: 0,
        tension: 0,
        fill: false,
        // last series painted on top
        order: SERIES_NAMES.length - i
    }));

    const xAxisHeight = panel.timeAxis ? PAGE_HEIGHT - panel.bottom : 0;

    return new Chart(document.getElementById(panel.canvasId), {
        type: 'line',
        data: { datasets },
        plugins: [panelDecor],
        options: {
            responsive: false,
            devicePixelRatio: 1,
            animation: false,
            events: [],
            layout: {
                autoPadding: false,
                padding: {
                    left: 0,
                    right: PAGE_WIDTH - PLOT_RIGHT,
                    top: panel.top,
                    bottom: PAGE_HEIGHT - panel.bottom - xAxisHeight
                }
            },
            scales: {
                x: {
                    type: 'linear',
                    min: 0,
                    max: 350,
                    afterBuildTicks: (scale) => {
                        scale.ticks = X_MAJOR_LOWER.map((value) => ({ value }));
                    },
                    afterFit: (scale) => {
                        scale.height = xAxisHeight;
                        scale.paddingLeft = 0;
                        scale.paddingRight = 0;
                    },
                    grid: { display: false, drawTicks: false },
                    border: { display: false },
                    ticks: {
                        display: panel.timeAxis,
                        color: '#000',
                        padding: 12,
                        autoSkip: false,
                        maxRotation: 0,
                        font: { family: FONT, size: 25, weight: 'bold' }
                    }
                },
                y: {
                    min: 1,
                    max: 6,
                    afterBuildTicks: (scale) => {
                        scale.ticks = Y_TICKS.map((value) => ({ value }));
                    },
                    afterFit: (scale) => {
                        scale.width = PLOT_LEFT;
                        scale.paddingTop = 0;
                        scale.paddingBottom = 0;
                    },
                    grid: { display: false, drawTicks: false },
                    border: { display: false },
                    ticks: {
                        color: '#000',
                        padding: 12,
                        font: { family: FONT, size: 20, weight: 'bold' }
                    }
                }
            },
            plugins: {
                legend: { display: false },
                tooltip: { enabled: false },
                panelDecor: {
                    title: panel.title,
                    titleColor: panel.titleColor,
                    titleBaseline: panel.titleBaseline,
                    legendLeft: panel.legendLeft,
                    legendRows: panel.legendRows,
                    majorTicks: panel.majorTicks,
                    minorTicks: panel.minorTicks,
                    timeAxis: panel.timeAxis
                }
            }
        }
    });
}

PANELS.forEach(buildPanel);
</script>
</body>
</html>
